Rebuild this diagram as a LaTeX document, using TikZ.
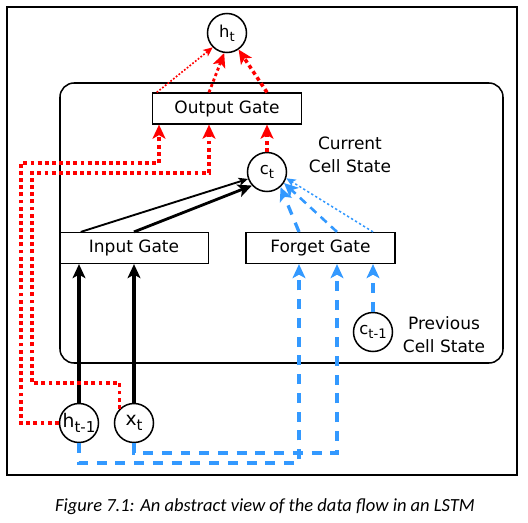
\documentclass[tikz,border=0pt]{standalone}
\usepackage{fontspec}
\setmainfont{DejaVu Sans}
\newfontfamily\captionfont{Carlito}
\usetikzlibrary{arrows.meta,positioning}
\definecolor{gatered}{RGB}{255,0,0}
\definecolor{gateblue}{RGB}{51,153,255}
\newcommand{\lowsub}[2]{#1\raisebox{-0.45ex}{\fontsize{0.8em}{1em}\selectfont #2}}

\begin{document}
\begin{tikzpicture}[
        x=0.03cm,y=-0.03cm,
        gate/.style={draw,line width=1.3pt,minimum width=4.47cm,minimum height=0.92cm,
          inner sep=0pt,font=\fontsize{14.5}{17}\selectfont},
        state/.style={circle,draw,line width=1.3pt,minimum size=1.17cm,inner sep=0pt,
          font=\fontsize{14}{16}\selectfont},
        bigstate/.style={state,font=\fontsize{16}{18}\selectfont},
        note/.style={align=center,font=\fontsize{14.5}{19.5}\selectfont},
        bigtip/.style={-{Stealth[length=12pt,width=11pt,inset=3pt]}},
        smalltip/.style={-{Stealth[length=8pt,width=7pt,inset=2pt]}},
        blk/.style={bigtip,line width=3.2pt},
        blkmid/.style={bigtip,line width=2.4pt},
        blkthin/.style={smalltip,line width=1.6pt},
        reddot/.style={bigtip,draw=gatered,line width=3pt,dash pattern=on 3.3pt off 2.8pt},
        redmid/.style={bigtip,draw=gatered,line width=2.4pt,dash pattern=on 2.6pt off 2.4pt},
        redthin/.style={smalltip,draw=gatered,line width=1.4pt,dash pattern=on 1.5pt off 1.5pt},
        bluedash/.style={bigtip,draw=gateblue,line width=2.8pt,dash pattern=on 8.5pt off 7.5pt},
        bluemid/.style={bigtip,draw=gateblue,line width=2.2pt,dash pattern=on 7pt off 5pt},
        bluethin/.style={smalltip,draw=gateblue,line width=1.3pt,dash pattern=on 2pt off 2pt}
      ]
      \useasboundingbox (0,0) rectangle (528,522);
      \draw[line width=1.3pt] (7,7) rectangle (517,475);
      \draw[line width=1.3pt,rounded corners=12pt] (60,83) rectangle (503,363);

      \node[state] (ht) at (227,33) {\lowsub{h}{t}};
      \node[gate] (og) at (227,108.5) {Output Gate};
      \node[state] (ct) at (267,172) {\lowsub{c}{t}};
      \node[note] (cur) at (350,155) {Current\\Cell State};
      \node[gate] (ig) at (134,248) {Input Gate};
      \node[gate] (fg) at (320.5,248) {Forget Gate};
      \node[state] (cprev) at (373,332) {\lowsub{c}{t-1}};
      \node[note] (prev) at (444,335) {Previous\\Cell State};
      \node[bigstate] (hprev) at (79,423) {\lowsub{h}{t-1}};
      \node[bigstate] (xt) at (134,423) {\lowsub{x}{t}};
      \node[font={\captionfont\itshape\fontsize{15.8}{18}\selectfont}] (cap) at (265,507)
        {Figure 7.1: An abstract view of the data flow in an LSTM};

      % turning points of the routed lines
      \coordinate (r1) at (21,163);
      \coordinate (g1) at (159,163);
      \coordinate (r2) at (32,383);
      \coordinate (r3) at (32,173);
      \coordinate (g2) at (209,173);
      \coordinate (b1) at (299,463);
      \coordinate (b2) at (337,453);

      \draw[blk] (hprev) -- (hprev |- ig.south);
      \draw[blk] (xt) -- (xt |- ig.south);
      \draw[blkthin] ([xshift=0.66cm]ig.north west) -- (ct.200);
      \draw[blkmid] (ig.north) -- (ct.222);

      \draw[bluedash] (hprev.south) |- (b1) -- (fg.south -| b1);
      \draw[bluedash] (xt.south) |- (b2) -- (fg.south -| b2);
      \draw[bluedash] (cprev) -- (fg.south -| cprev);
      \draw[bluedash] (fg.north -| b1) -- (ct.312);
      \draw[bluemid] (fg.north -| b2) -- (ct.327);
      \draw[bluethin] (fg.north -| cprev) -- (ct.342);

      \draw[reddot] (hprev.west) -| (r1) -- (g1) -- (og.south -| g1);
      \draw[reddot] (xt.135) |- (r2) -- (r3) -- (g2) -- (og.south -| g2);
      \draw[reddot] (ct) -- (og.south -| ct);
      \draw[redthin] ([xshift=0.15cm]og.north west) -- (ht.225);
      \draw[redmid] (og.north -| g2) -- (ht.262);
      \draw[reddot] (og.north -| ct) -- (ht.305);
    \end{tikzpicture}
\end{document}
